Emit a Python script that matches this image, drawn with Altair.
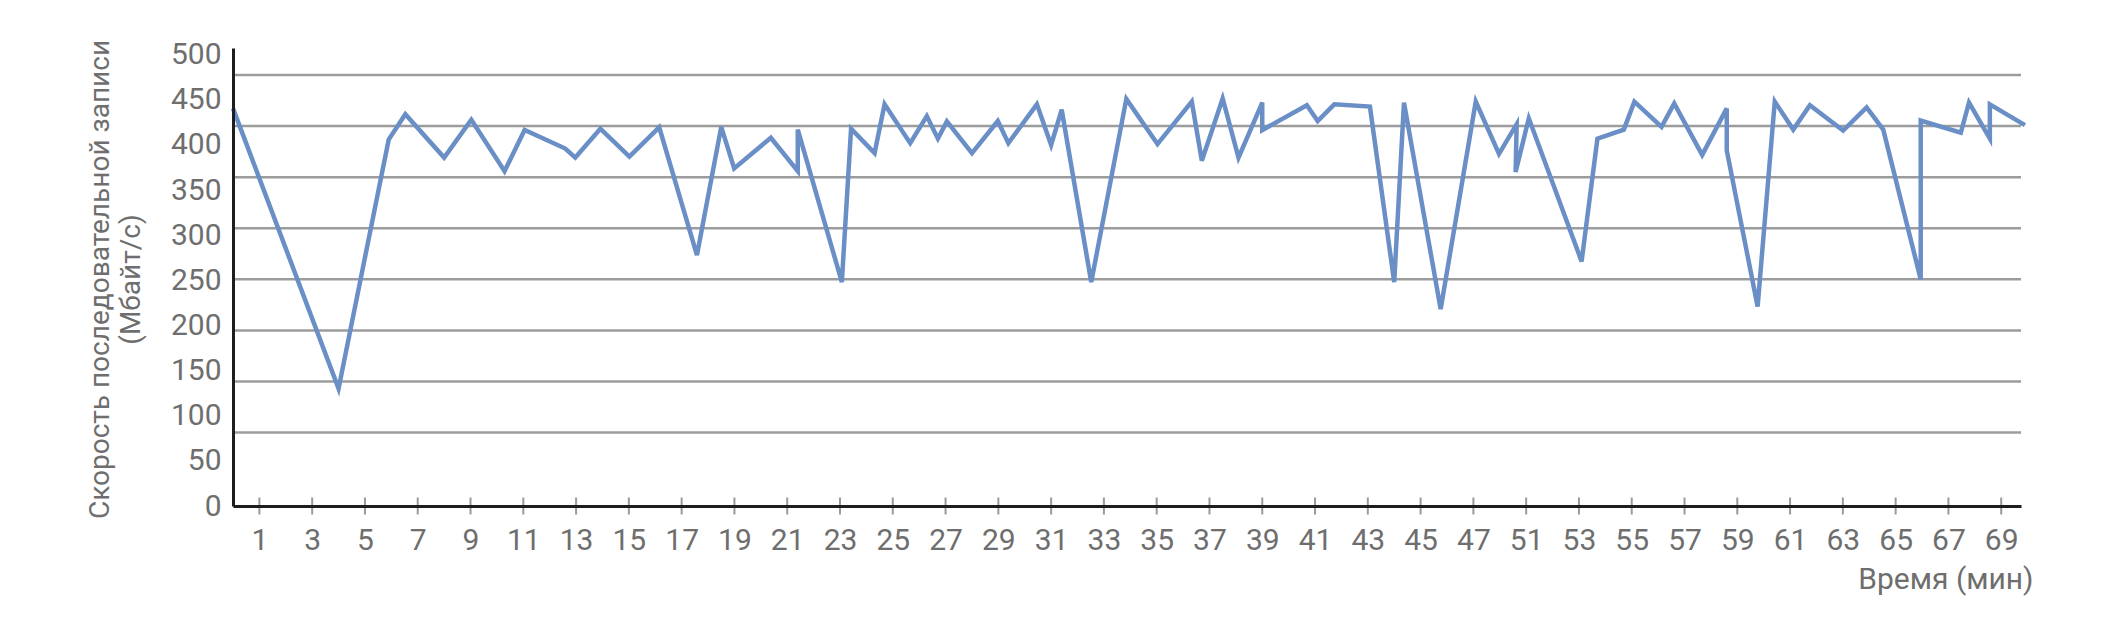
import json
import altair as alt
import pandas as pd

# Time position (minutes along the axis) and sequential write speed (MB/s)
t = [0, 4.0, 5.9, 6.53, 8.0, 9.03, 10.29, 11.05, 12.59, 12.97, 13.92, 15.02, 16.15,
     17.58, 18.5, 18.99, 20.38, 21.4, 21.4, 23.07, 23.42, 24.31, 24.69, 25.66, 26.29,
     26.71, 27.05, 28.0, 28.98, 29.38, 30.46, 31.0, 31.4, 32.52, 33.85, 35.03, 36.33,
     36.71, 37.5, 38.1, 39.0, 39.0, 40.69, 41.1, 41.73, 43.08, 44.0, 44.37, 45.76,
     47.09, 47.97, 48.64, 48.6, 49.1, 51.1, 51.7, 52.7, 53.1, 54.13, 54.61, 55.67,
     56.6, 56.6, 57.77, 58.42, 59.12, 59.75, 61.01, 61.9, 62.53, 63.95, 63.95, 65.47,
     65.78, 66.57, 66.57, 67.9]
speed = [440.5, 130, 406, 434, 386, 428, 371, 416.5, 396, 386, 418, 387, 419.5,
         278, 420, 374, 408, 371, 417, 248, 418, 391, 445, 402, 432,
         407, 426, 391, 426.5, 402, 445, 400, 439, 248, 451, 401, 448,
         382.5, 451.5, 386, 447, 416.5, 444, 426.5, 445, 442.5, 248, 447, 218,
         448, 390, 423, 370, 429.5, 271, 407, 417, 448, 420, 446, 389,
         440.5, 394, 221, 448, 417, 444, 416, 441.5, 417, 251, 427, 413.5,
         447, 407, 445, 422]

tick_pos = list(range(1, 68, 2))
tick_labels = [str(v) for v in range(1, 48, 2)] + [str(v) for v in range(51, 70, 2)]
y_ticks = list(range(0, 501, 50))
grid_values = list(range(100, 451, 50))

FONT = "Roboto, Liberation Sans, sans-serif"
GREY_TXT = "#6e6e6e"
LINE_C = "#6a8ec6"

df = pd.DataFrame({"t": t, "v": speed, "i": list(range(len(t)))})
grid_df = pd.DataFrame({"g": grid_values})
tick_df = pd.DataFrame({"p": tick_pos})

X_DOM = [0, 67.75]
Y_DOM = [0, 507.4]

x_axis = alt.Axis(
    values=tick_pos,
    labelExpr=json.dumps(tick_labels) + "[(datum.value - 1) / 2]",
    ticks=False, grid=False,
    domainColor="#1e1e1e", domainWidth=3,
    labelFont=FONT, labelFontSize=30, labelColor=GREY_TXT, labelPadding=19,
    labelFlush=False, labelOverlap=False,
    title="Время (мин)", titleFont=FONT, titleFontSize=30, titleFontWeight="normal",
    titleColor=GREY_TXT, titleAlign="right", titleX=1800, titleY=82,
    titleBaseline="alphabetic", zindex=1,
)
y_axis = alt.Axis(
    values=y_ticks, ticks=False, grid=False,
    domainColor="#1e1e1e", domainWidth=3,
    labelFont=FONT, labelFontSize=30, labelColor=GREY_TXT, labelPadding=12,
    title=["Скорость последовательной записи", "(Мбайт/с)"],
    titleFont=FONT, titleFontSize=28, titleFontWeight="normal", titleColor=GREY_TXT,
    titleX=-133, titleY=231, titleAngle=-90, titleAlign="center",
    titleBaseline="middle", titleLineHeight=31, zindex=1,
)

grid = alt.Chart(grid_df).mark_rule(color="#9c9c9c", strokeWidth=2.5).encode(
    y=alt.Y("g:Q", scale=alt.Scale(domain=[28.1, 476.45], nice=False, zero=False), axis=None)
)

line = alt.Chart(df).mark_line(color=LINE_C, strokeWidth=4.5, strokeJoin="miter").encode(
    x=alt.X("t:Q", scale=alt.Scale(domain=X_DOM, nice=False, zero=False), axis=x_axis),
    y=alt.Y("v:Q", scale=alt.Scale(domain=Y_DOM, nice=False), axis=y_axis),
    order="i:Q",
)

ticks = alt.Chart(tick_df).mark_tick(orient="vertical", size=17, thickness=2, color="#9a9a9a", opacity=1).encode(
    x=alt.X("p:Q", scale=alt.Scale(domain=X_DOM, nice=False, zero=False)),
    y=alt.Y(datum=0, scale=alt.Scale(domain=Y_DOM, nice=False), axis=None),
)

chart = alt.layer(grid, ticks, line).resolve_scale(y="independent").properties(
    width=1788, height=458,
    autosize=alt.AutoSizeParams(type="none"),
    padding={"left": 225, "top": 40, "right": 90, "bottom": 110},
).configure_view(stroke=None)

chart.save("out.html", embed_options={"renderer": "svg", "actions": False})
